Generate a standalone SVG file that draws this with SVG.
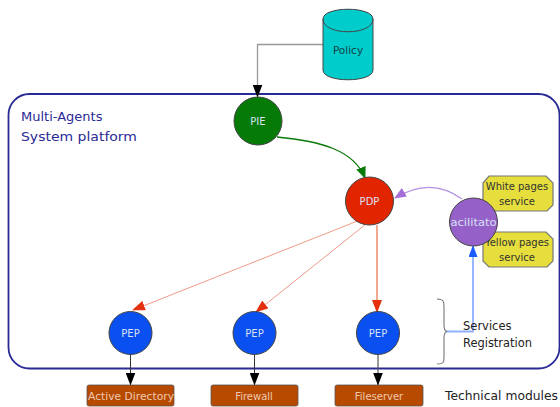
<svg xmlns="http://www.w3.org/2000/svg" width="560" height="407" viewBox="0 0 560 407">
<style>
text{font-family:"DejaVu Sans",sans-serif;text-anchor:middle}
.c{stroke:#444;stroke-width:1}
.n{font-size:10px;fill:#d8e0f4}
.y{fill:#e6de3c;stroke:#777;stroke-width:1.2}
.yt{font-size:10px;fill:#333}
.b{fill:#b84a00;stroke:#555;stroke-width:.8}
.bt{font-size:10px;fill:#eec9b0}
.l{font-size:11.500px;fill:#222;text-anchor:start}
.f{fill:none}
</style>
<defs>
<marker id="k" markerWidth="13" markerHeight="10" refX="12.500" refY="5" orient="auto" markerUnits="userSpaceOnUse"><path d="M0 0L13 5L0 10z" fill="#000"/></marker>
<marker id="g" markerWidth="12" markerHeight="10" refX="11" refY="5" orient="auto" markerUnits="userSpaceOnUse"><path d="M0 0L12 5L0 10z" fill="#0a7a0a"/></marker>
<marker id="r" markerWidth="13" markerHeight="10" refX="12" refY="5" orient="auto" markerUnits="userSpaceOnUse"><path d="M0 0L13 5L0 10z" fill="#e5300f"/></marker>
<marker id="p" markerWidth="12" markerHeight="10" refX="11" refY="5" orient="auto" markerUnits="userSpaceOnUse"><path d="M0 0L12 5L0 10z" fill="#a56fd8"/></marker>
<marker id="u" markerWidth="12" markerHeight="9" refX="11" refY="4.500" orient="auto" markerUnits="userSpaceOnUse"><path d="M0 0L12 4.500L0 9z" fill="#1a5cff"/></marker>
</defs>
<rect id="platform" x="8.500" y="94" width="551" height="274.500" rx="21" fill="#fff" stroke="#2a2a96" stroke-width="1.800"/>
<g id="connectors">
<path class="f" d="M323 44.500H257.500V97" stroke="#999" stroke-width="1.300" marker-end="url(#k)"/>
<path class="f" d="M277 137C320 141 354 150 365 178" stroke="#0a7a0a" stroke-width="1.300" marker-end="url(#g)"/>
<path class="f" d="M360 220L133 310" stroke="#f09a88" stroke-width="1" marker-end="url(#r)"/>
<path class="f" d="M366 224L256 312" stroke="#f09a88" stroke-width="1" marker-end="url(#r)"/>
<path class="f" d="M377 225V312" stroke="#e5501f" stroke-width="1" marker-end="url(#r)"/>
<path class="f" d="M462 199C440 183 418 184 395 198" stroke="#b48ee0" stroke-width="1.200" marker-end="url(#p)"/>
<path class="f" d="M446 331.500H473V246" stroke="#8fb0ff" stroke-width="1.800" marker-end="url(#u)"/>
<path class="f" d="M437 299C444 299 444 302 444 308V325Q444 331 447 331.500Q444 332 444 338V356C444 362 444 364 437 364" stroke="#777" stroke-width="1.100"/>
<path d="M130.500 354V385" stroke="#333" stroke-width="1" marker-end="url(#k)" class="f"/>
<path d="M254.500 354V385" stroke="#333" stroke-width="1" marker-end="url(#k)" class="f"/>
<path d="M378 354V385" stroke="#555" stroke-width="1.200" marker-end="url(#k)" class="f"/>
</g>
<g id="policy">
<path d="M323 19C323 6 373 6 373 19V70C373 83 323 83 323 70z" fill="#00cccc" stroke="#444"/>
<path d="M323 19C323 36 373 36 373 19" fill="none" stroke="#444"/>
<text x="348" y="54" font-size="10.500" fill="#144">Policy</text>
</g>
<g id="pie"><circle class="c" cx="258" cy="121" r="24" fill="#067a06"/><text class="n" x="258" y="125">PIE</text></g>
<g id="pdp"><circle class="c" cx="369.500" cy="201" r="24" fill="#e02500"/><text class="n" x="369.500" y="205">PDP</text></g>
<g id="white"><path class="y" d="M489 176H546L553 183V205L547 211H489L483 205V183z"/><text class="yt" x="517" y="190">White pages</text><text class="yt" x="517" y="205">service</text></g>
<g id="yellow"><path class="y" d="M489 232H546L553 239V261L547 267H489L483 261V239z"/><text class="yt" x="517" y="246">Yellow pages</text><text class="yt" x="517" y="261">service</text></g>
<g id="facilitator"><circle class="c" cx="473.500" cy="222" r="24" fill="#9560c8"/><text class="n" x="473.500" y="226" textLength="46" lengthAdjust="spacingAndGlyphs">acilitato</text></g>
<g id="pep1"><circle class="c" cx="130.500" cy="333" r="21.500" fill="#0a50f0"/><text class="n" x="130.500" y="337">PEP</text></g>
<g id="pep2"><circle class="c" cx="254.500" cy="333" r="21.500" fill="#0a50f0"/><text class="n" x="254.500" y="337">PEP</text></g>
<g id="pep3"><circle class="c" cx="378" cy="333" r="21.500" fill="#0a50f0"/><text class="n" x="378" y="337">PEP</text></g>
<g id="ad"><rect class="b" x="87" y="385" width="87" height="21" rx="2"/><text class="bt" x="131" y="400" textLength="86" lengthAdjust="spacingAndGlyphs">Active Directory</text></g>
<g id="fw"><rect class="b" x="211" y="385" width="87" height="21" rx="2"/><text class="bt" x="254" y="400">Firewall</text></g>
<g id="fs"><rect class="b" x="335" y="385" width="88" height="21" rx="2"/><text class="bt" x="379" y="400">Fileserver</text></g>
<text x="21" y="121" font-size="13" fill="#2a2a96" style="text-anchor:start">Multi-Agents</text>
<text x="21" y="141" font-size="13" fill="#2a2a96" style="text-anchor:start" textLength="116" lengthAdjust="spacingAndGlyphs">System platform</text>
<text class="l" x="463" y="330">Services</text>
<text class="l" x="463" y="347" textLength="69" lengthAdjust="spacingAndGlyphs">Registration</text>
<text class="l" x="445" y="400" textLength="113" lengthAdjust="spacingAndGlyphs">Technical modules</text>
</svg>
